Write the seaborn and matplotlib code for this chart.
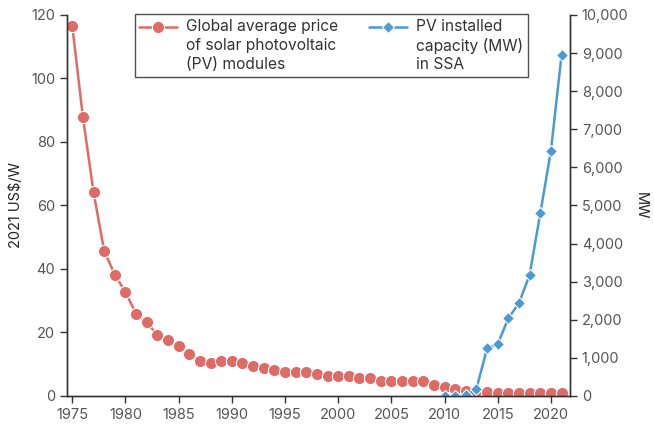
import pandas as pd
import numpy as np
import matplotlib.pyplot as plt
import seaborn as sns
from matplotlib.ticker import FuncFormatter

# --- data ---
price_years = list(range(1975, 2022))
price_usd_w = [116.5, 87.8, 64.1, 45.7, 38.2, 32.7, 25.9, 23.2, 19.2, 17.7,
               15.7, 13.2, 11.1, 10.3, 11.1, 11.1, 10.3, 9.6, 8.9, 8.2,
               7.6, 7.6, 7.5, 6.9, 6.2, 6.2, 6.2, 5.6, 5.6, 4.8,
               4.8, 4.8, 4.8, 4.8, 3.5, 2.8, 2.1, 1.6, 1.5, 1.4,
               0.8, 0.8, 0.8, 0.8, 0.8, 0.8, 0.8]
pv_years = list(range(2010, 2022))
pv_mw = [0, 10, 15, 190, 1250, 1360, 2040, 2440, 3175, 4790, 6430, 8940]

price_label = 'Global average price\nof solar photovoltaic\n(PV) modules'
pv_label = 'PV installed\ncapacity (MW)\nin SSA'
red = '#df6b67'
blue = '#4a9ad4'

df_price = pd.DataFrame({'Year': price_years, 'Price': price_usd_w})
df_pv = pd.DataFrame({'Year': pv_years, 'MW': pv_mw})

# --- plot ---
sns.set_style('ticks')
plt.rcParams['font.family'] = ['Inter', 'DejaVu Sans']
plt.rcParams['axes.edgecolor'] = '#333333'
plt.rcParams['xtick.color'] = '#333333'
plt.rcParams['ytick.color'] = '#333333'
plt.rcParams['xtick.labelcolor'] = '#555555'
plt.rcParams['ytick.labelcolor'] = '#555555'

fig = plt.figure(figsize=(6.54, 4.28), dpi=100)
ax = fig.add_axes([0.1024, 0.0748, 0.7692, 0.8902])
ax2 = ax.twinx()

sns.lineplot(data=df_price, x='Year', y='Price', ax=ax, color=red, marker='o',
             markersize=8.8, markeredgecolor='white', markeredgewidth=0.8,
             linewidth=1.8, label=price_label, legend=False)
sns.lineplot(data=df_pv, x='Year', y='MW', ax=ax2, color=blue, marker='D',
             markersize=6.5, markeredgecolor='white', markeredgewidth=0.8,
             linewidth=1.8, label=pv_label, legend=False)

ax.set_xlim(1974.5, 2021.8)
ax.set_ylim(0, 120)
ax2.set_ylim(0, 10000)
ax.set_xticks(range(1975, 2021, 5))
ax.set_yticks(range(0, 121, 20))
ax2.set_yticks(range(0, 10001, 1000))
ax2.yaxis.set_major_formatter(FuncFormatter(lambda v, p: f'{int(v):,}'))

for a in (ax, ax2):
    a.spines['top'].set_visible(False)
    a.tick_params(labelsize=10.5, length=5, width=1)
    for s in a.spines.values():
        s.set_linewidth(1)

ax.set_xlabel('')
ax.set_ylabel('2021 US$/W', fontsize=10.5, color='#222222', labelpad=6)
ax2.set_ylabel('MW', fontsize=10.5, color='#222222', rotation=270, labelpad=14)

h1, l1 = ax.get_legend_handles_labels()
h2, l2 = ax2.get_legend_handles_labels()
leg = ax2.legend(h1 + h2, l1 + l2, ncol=2, loc='upper left',
                 bbox_to_anchor=(0.206, 0.967), bbox_transform=fig.transFigure,
                 borderaxespad=0, frameon=True, fancybox=False,
                 edgecolor='#222222', fontsize=11.2, handlelength=2.4,
                 columnspacing=2.0, borderpad=0.3, handletextpad=0.6)
leg.get_frame().set_linewidth(1)
for t in leg.get_texts():
    t.set_color('#333333')
    t.set_linespacing(1.3)
# move the legend markers up to the first text line
for h in leg.legend_handles:
    h.set_ydata(np.asarray(h.get_ydata()) + 14)

plt.savefig('out.png', dpi=100)
